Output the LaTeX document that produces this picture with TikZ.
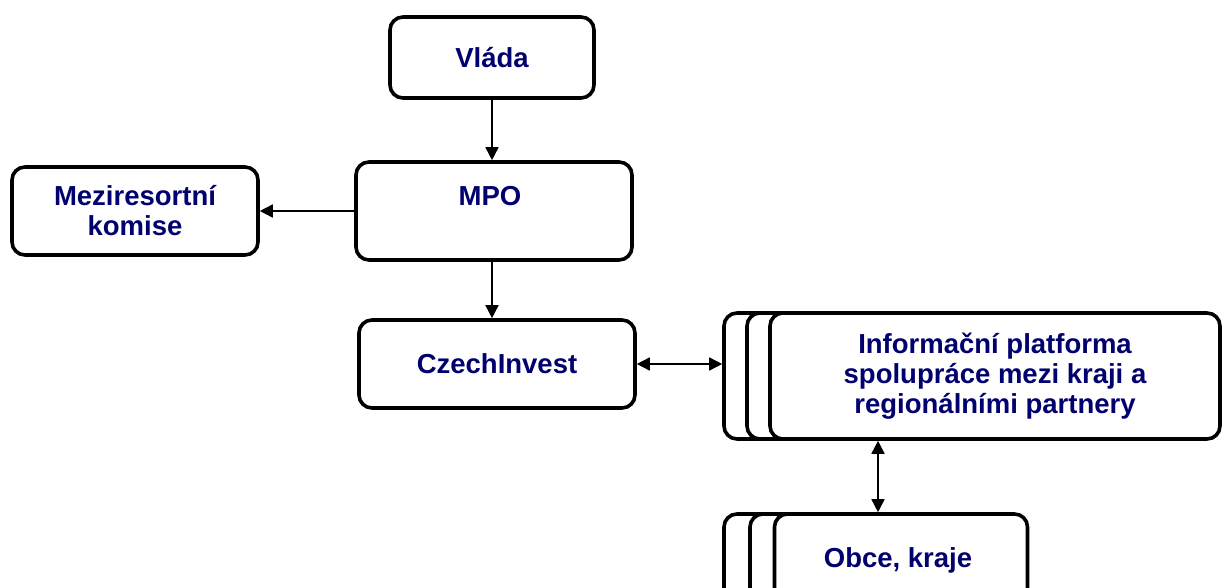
\documentclass[tikz,border=0pt]{standalone}
\usepackage{fontspec}
\setmainfont{Liberation Sans}
\usetikzlibrary{arrows.meta}
\definecolor{navy}{RGB}{0,0,110}
\tikzset{
  box/.style={draw, line width=3.6pt, rounded corners=13pt, fill=white, inner sep=0pt},
  txt/.style={text=navy, font=\fontsize{27.5}{30}\selectfont\bfseries, align=center},
  link/.style={line width=1.6pt},
}

\begin{document}
\begin{tikzpicture}[line cap=round,line join=round,>={Triangle[length=13pt,width=13pt]},x=1pt,y=-1pt]
\clip (0,0) rectangle (1224,588);
% upper chain
\node[box, txt, minimum width=204pt, minimum height=81pt] (vlada) at (492,57.5) {Vl\'ada};
\node[box, minimum width=276pt, minimum height=98pt] (mpo) at (494,211) {};
\node[txt] at (490,196) {MPO};
\node[box, txt, minimum width=246pt, minimum height=88pt] (komise) at (135,211) {Meziresortn\'i\\komise};
\node[box, txt, minimum width=276pt, minimum height=88pt] (czech) at (497,364) {CzechInvest};
% stacked boxes
\node[box, minimum width=200pt, minimum height=126pt] (info3) at (824,376) {};
\node[box, minimum width=200pt, minimum height=126pt] (info2) at (847,376) {};
\node[box, txt, minimum width=450pt, minimum height=126pt] (info) at (995,376) {Informa\v{c}n\'i platforma\\spolupr\'ace mezi kraji a\\region\'aln\'imi partnery};
\node[box, minimum width=150pt, minimum height=124pt] (obce3) at (799,576) {};
\node[box, minimum width=150pt, minimum height=124pt] (obce2) at (825,576) {};
\node[box, minimum width=253pt, minimum height=124pt] (obce) at (901,576) {};
\node[txt] at (898,560) {Obce, kraje};
% connectors
\draw[link,->] (vlada.south) -- (vlada.south |- mpo.north);
\draw[link,->] (mpo.west) -- (komise.east);
\draw[link,->] (vlada.south |- mpo.south) -- (vlada.south |- czech.north);
\draw[link,<->] (czech.east) -- (czech.east -| info3.west);
\draw[link,<->] ([xshift=-23pt]obce.north |- info.south) -- ([xshift=-23pt]obce.north);
\end{tikzpicture}
\end{document}
